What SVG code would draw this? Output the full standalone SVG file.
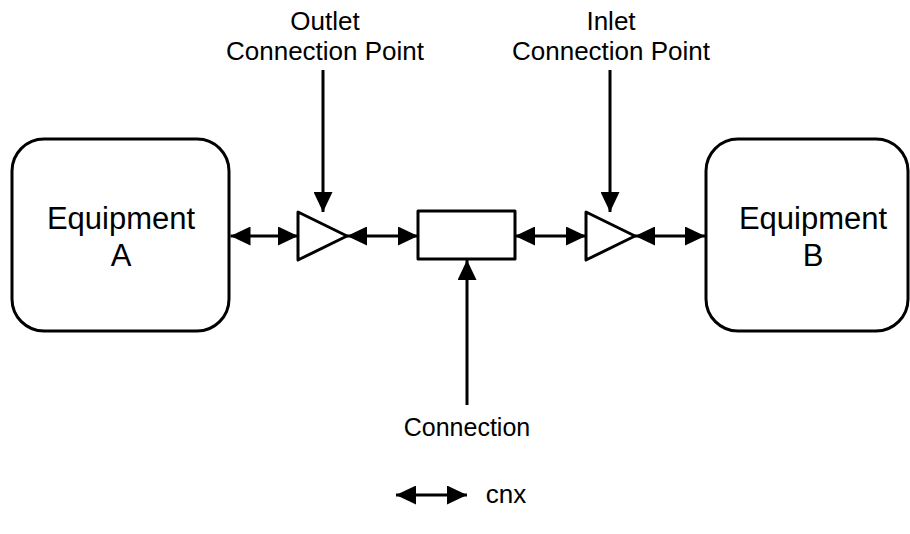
<svg xmlns="http://www.w3.org/2000/svg" width="910" height="534" viewBox="0 0 910 534">
<style>
.shape{fill:#fff;stroke:#000;stroke-width:3;stroke-linejoin:round}
.conn{fill:none;stroke:#000;stroke-width:3}
.lbl{font-family:"Liberation Sans",Arial,sans-serif;fill:#000;text-anchor:middle}
</style>
<defs>
<marker id="ah" markerUnits="userSpaceOnUse" markerWidth="20" markerHeight="19" refX="20" refY="9.5" orient="auto-start-reverse" viewBox="0 0 20 19">
<path d="M0,0 L20,9.5 L0,19 z" fill="#000"/>
</marker>
</defs>
<rect width="910" height="534" fill="#fff"/>
<g id="equipmentA">
<rect class="shape" x="12" y="139" width="217" height="192" rx="32" ry="32"/>
<text class="lbl" x="121" y="229" font-size="31">Equipment</text>
<text class="lbl" x="121" y="266" font-size="31">A</text>
</g>
<g id="equipmentB">
<rect class="shape" x="706" y="139" width="202" height="192" rx="32" ry="32"/>
<text class="lbl" x="813" y="229" font-size="31">Equipment</text>
<text class="lbl" x="813" y="266" font-size="31">B</text>
</g>
<g id="outletPoint">
<polygon class="shape" points="298,212 347,236 298,260"/>
</g>
<g id="connection">
<rect class="shape" x="418" y="211" width="97" height="48"/>
</g>
<g id="inletPoint">
<polygon class="shape" points="586,212 635,236 586,260"/>
</g>
<g id="labelOutlet">
<text class="lbl" x="325" y="30" font-size="26">Outlet</text>
<text class="lbl" x="325" y="60" font-size="26">Connection Point</text>
</g>
<g id="labelInlet">
<text class="lbl" x="611" y="30" font-size="26">Inlet</text>
<text class="lbl" x="611" y="60" font-size="26">Connection Point</text>
</g>
<g id="labelConnection">
<text class="lbl" x="467" y="436" font-size="25">Connection</text>
</g>
<g id="legend">
<line class="conn" x1="396" y1="495" x2="467" y2="495" marker-start="url(#ah)" marker-end="url(#ah)"/>
<text class="lbl" x="506" y="503" font-size="26">cnx</text>
</g>
<g id="connectors">
<line class="conn" x1="230.5" y1="236" x2="298" y2="236" marker-start="url(#ah)" marker-end="url(#ah)"/>
<line class="conn" x1="347" y1="236" x2="418" y2="236" marker-start="url(#ah)" marker-end="url(#ah)"/>
<line class="conn" x1="515" y1="236" x2="586" y2="236" marker-start="url(#ah)" marker-end="url(#ah)"/>
<line class="conn" x1="635" y1="236" x2="705" y2="236" marker-start="url(#ah)" marker-end="url(#ah)"/>
<line class="conn" x1="323" y1="70" x2="323" y2="212" marker-end="url(#ah)"/>
<line class="conn" x1="610" y1="70" x2="610" y2="212" marker-end="url(#ah)"/>
<line class="conn" x1="467" y1="405" x2="467" y2="260" marker-end="url(#ah)"/>
</g>
</svg>
